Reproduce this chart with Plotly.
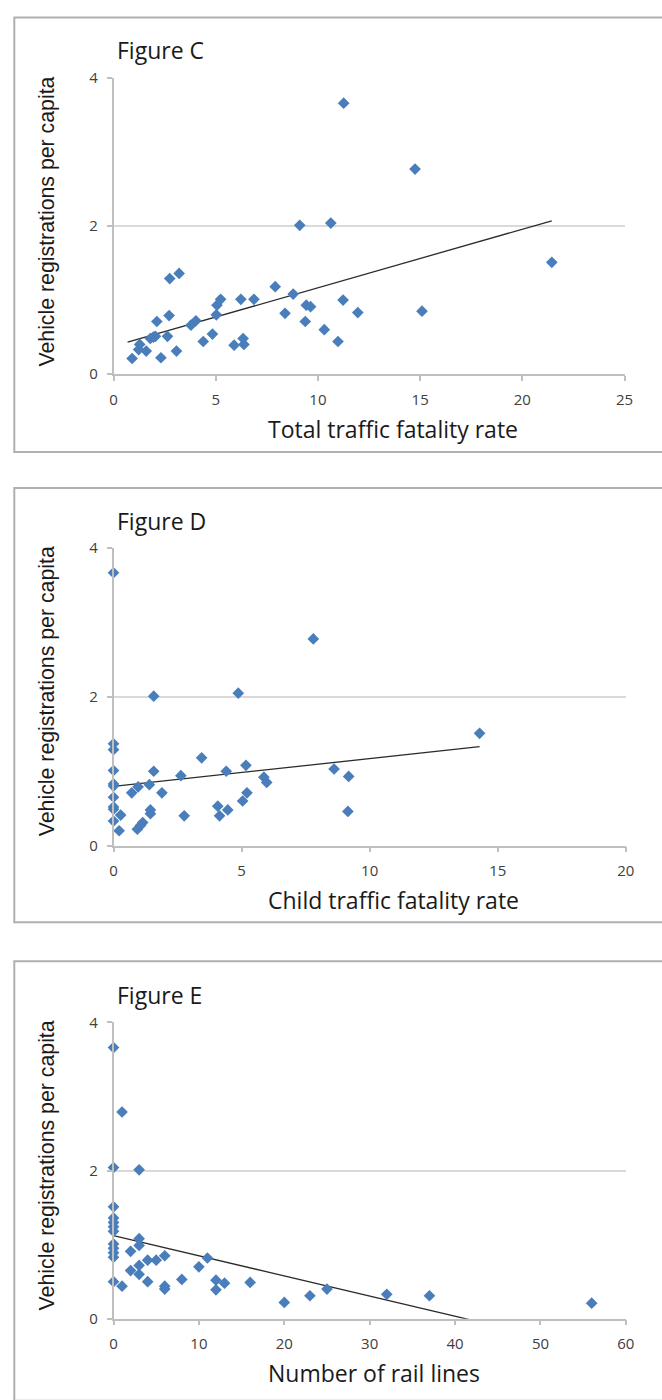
import plotly.graph_objects as go

W, H = 662, 1400

# ---------------- data ----------------
c_x = [0.91, 1.28, 1.23, 1.60, 1.80, 1.95, 2.05, 2.12, 2.64, 2.72, 2.75, 3.21, 2.32, 3.08,
       3.79, 4.03, 4.39, 4.84, 5.03, 5.06, 5.24, 5.90, 6.34, 6.38, 6.23, 6.87, 7.91, 8.39,
       8.79, 9.11, 9.38, 9.43, 9.64, 10.31, 10.63, 10.98, 11.23, 11.26, 14.75, 15.09,
       11.95, 21.44]
c_y = [0.21, 0.40, 0.33, 0.31, 0.48, 0.50, 0.51, 0.71, 0.51, 0.79, 1.29, 1.36, 0.22, 0.31,
       0.66, 0.72, 0.44, 0.54, 0.80, 0.93, 1.01, 0.39, 0.48, 0.40, 1.01, 1.01, 1.18, 0.82,
       1.08, 2.01, 0.71, 0.93, 0.91, 0.60, 2.04, 0.44, 1.00, 3.66, 2.77, 0.85,
       0.83, 1.51]

d_x = [0, 0, 0, 0, 0, 0, 0, 0, 0, 0,
       0.22, 0.28, 0.71, 0.96, 0.93, 1.05, 1.14, 1.40, 1.44, 1.44, 1.57, 1.57, 1.89,
       2.63, 2.76, 3.44, 4.07, 4.14, 4.40, 4.46, 4.87, 5.04, 5.21, 5.17, 5.87, 5.98,
       7.80, 8.61, 9.18, 9.15, 14.29]
d_y = [3.67, 1.37, 1.29, 1.01, 0.83, 0.80, 0.65, 0.52, 0.49, 0.33,
       0.20, 0.41, 0.71, 0.79, 0.22, 0.27, 0.31, 0.82, 0.48, 0.43, 1.00, 2.01, 0.71,
       0.94, 0.40, 1.18, 0.53, 0.40, 1.00, 0.48, 2.05, 0.60, 0.71, 1.08, 0.92, 0.85,
       2.78, 1.03, 0.93, 0.46, 1.51]

e_x = [0, 0, 0, 0, 0, 0, 0, 0, 0, 0, 0, 0,
       1, 1, 2, 2, 3, 3, 3, 3, 3, 4, 4, 5, 6, 6, 6, 8, 10, 11, 12, 12, 13, 16,
       20, 23, 25, 32, 37, 56]
e_y = [3.66, 2.04, 1.51, 1.36, 1.30, 1.24, 1.18, 1.01, 0.95, 0.89, 0.83, 0.50,
       2.79, 0.44, 0.91, 0.65, 2.01, 1.08, 0.99, 0.72, 0.60, 0.79, 0.50, 0.79, 0.85, 0.44, 0.40,
       0.53, 0.70, 0.82, 0.52, 0.39, 0.48, 0.49,
       0.22, 0.31, 0.40, 0.33, 0.31, 0.21]

# linear trendlines (slope, intercept, x-start, x-end)
trend_c = [0.0791, 0.375, 0.69, 21.44]
trend_d = [0.0373, 0.797, 0.0, 14.29]
trend_e = [-0.0272, 1.122, 0.0, 56.0]

titles = ["Figure C", "Figure D", "Figure E"]
x_titles = ["Total traffic fatality rate", "Child traffic fatality rate", "Number of rail lines"]
y_title = "Vehicle registrations per capita"
x_max = [25, 20, 60]
x_dtick = [5, 5, 10]
y_ticks = [0, 2, 4]

# ---------------- layout helpers (pixels -> paper fraction) ----------------
def px(x):
    return x / W

def py(y):
    return 1 - y / H

panels = [
    dict(l=111.7, r=633.0, t=68.0, b=368.3, ty=40, xt=(397, 424), yt=213.5, bt=6.5, bb=447.5),
    dict(l=111.7, r=634.3, t=545.0, b=846.7, ty=517, xt=(397, 901.5), yt=690, bt=484, bb=924.5),
    dict(l=111.7, r=634.3, t=1026.0, b=1326.7, ty=998, xt=(377, 1382), yt=1171, bt=964, bb=1410),
]

blue = "#4a7ebb"
grid = "#d9d9d9"
axis_col = "#bfbfbf"
tick_font = dict(family="Open Sans, sans-serif", size=15, color="#404040")
title_font = dict(family="Open Sans, sans-serif", size=23, color="#1a1a1a")
xtitle_font = dict(family="Open Sans, sans-serif", size=23, color="#1a1a1a")
ytitle_font = dict(family="Liberation Sans, Arial, sans-serif", size=21.3, color="#1a1a1a")

data_x = [c_x, d_x, e_x]
data_y = [c_y, d_y, e_y]
trends = [trend_c, trend_d, trend_e]

fig = go.Figure()
annotations = []
shapes = []
layout_axes = {}

for i in range(3):
    p = panels[i]
    suffix = "" if i == 0 else str(i + 1)
    xa, ya = "x" + suffix, "y" + suffix
    s, b0, xs, xe = trends[i]
    fig.add_trace(go.Scatter(
        x=[xs, xe], y=[b0 + s * xs, b0 + s * xe], mode="lines", xaxis=xa, yaxis=ya,
        line=dict(color="#2b2b2b", width=1.3), showlegend=False, hoverinfo="skip"))
    fig.add_trace(go.Scatter(
        x=data_x[i], y=data_y[i], mode="markers", xaxis=xa, yaxis=ya, cliponaxis=False,
        marker=dict(symbol="diamond", size=9, color=blue, line=dict(width=0)),
        showlegend=False, hoverinfo="x+y"))

    layout_axes["xaxis" + suffix] = dict(
        domain=[px(p["l"]), px(p["r"])], range=[0, x_max[i]], anchor=ya,
        tick0=0, dtick=x_dtick[i], showgrid=False, zeroline=False,
        showline=True, linecolor=axis_col, linewidth=1.5,
        ticks="outside", ticklen=5, tickcolor=axis_col, tickwidth=1.5,
        tickfont=tick_font, ticklabelstandoff=6, fixedrange=True)
    layout_axes["yaxis" + suffix] = dict(
        domain=[py(p["b"]), py(p["t"])], range=[0, 4], anchor=xa,
        tickvals=y_ticks, showgrid=True, gridcolor=grid, gridwidth=1.5, zeroline=False,
        showline=True, linecolor=axis_col, linewidth=1.5,
        ticks="outside", ticklen=5, tickcolor=axis_col, tickwidth=1.5,
        tickfont=tick_font, ticklabelstandoff=6, fixedrange=True)

    annotations.append(dict(text=titles[i], x=px(113), y=py(p["ty"]), xref="paper", yref="paper",
                            xanchor="left", yanchor="middle", showarrow=False, font=title_font))
    annotations.append(dict(text=x_titles[i], x=px(p["xt"][0]), y=py(p["xt"][1]), xref="paper",
                            yref="paper", xanchor="center", yanchor="middle", showarrow=False,
                            font=xtitle_font))
    annotations.append(dict(text=y_title, x=px(44), y=py(p["yt"]), xref="paper", yref="paper",
                            xanchor="center", yanchor="middle", textangle=-90, showarrow=False,
                            font=ytitle_font))
    # panel frame: top, left and bottom edges (right edge lies beyond the page)
    shapes.append(dict(type="rect", xref="paper", yref="paper",
                       x0=px(10.5), x1=px(W + 20), y0=py(p["bb"]), y1=py(p["bt"]),
                       line=dict(color="#b0b0b0", width=2), fillcolor="rgba(0,0,0,0)", layer="below"))

fig.update_layout(
    width=W, height=H, margin=dict(l=0, r=0, t=0, b=0),
    paper_bgcolor="white", plot_bgcolor="white",
    annotations=annotations, shapes=shapes, **layout_axes)

fig.write_html("out.html", config={"displayModeBar": False})
